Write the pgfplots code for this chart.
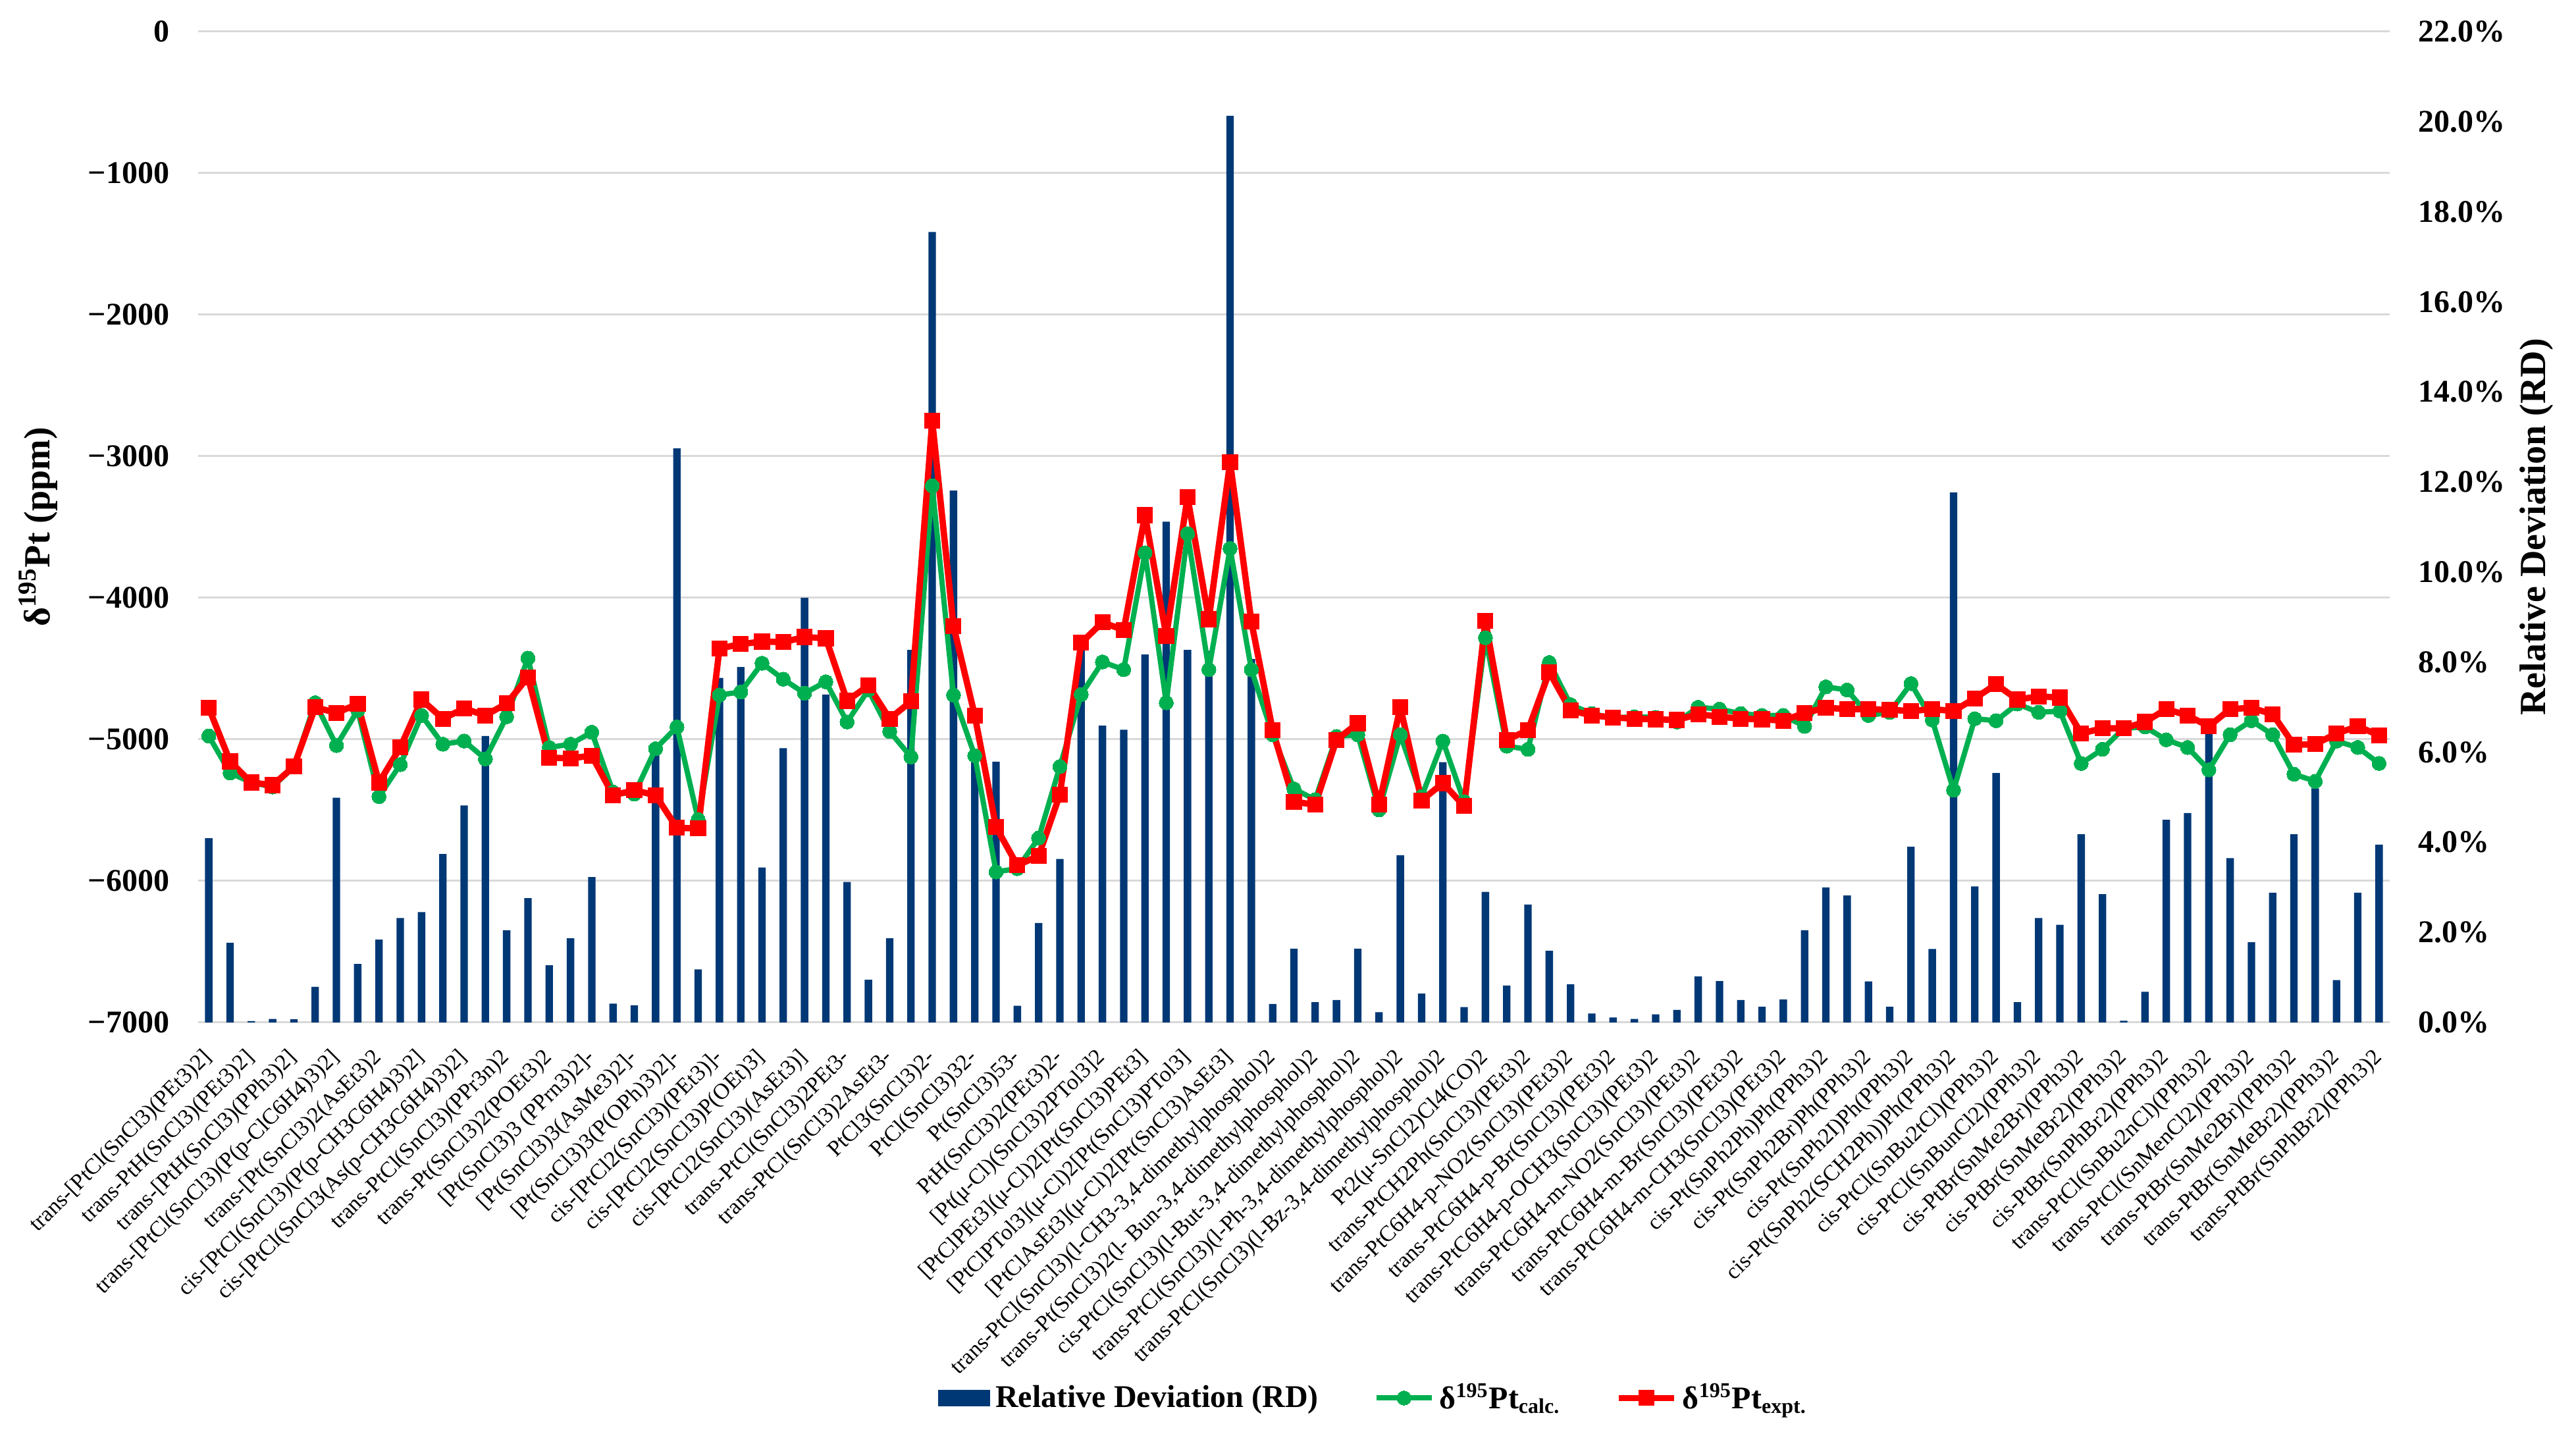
\documentclass[border=0pt]{standalone}
\usepackage{fontspec}
\setmainfont{Liberation Serif}
\usepackage{pgfplots}
\usepackage{pgfplotstable}
\pgfplotsset{compat=1.18}
\definecolor{barblue}{HTML}{003876}
\definecolor{gridgray}{HTML}{D9D9D9}
\definecolor{calcgreen}{HTML}{00B050}
\definecolor{exptred}{HTML}{FF0000}
\pgfplotstableread{
x rd calc expt
0 4.09 -4976 -4777
1 1.77 -5237 -5156
2 0.03 -5305 -5305
3 0.08 -5336 -5323
4 0.07 -5192 -5192
5 0.79 -4741 -4773
6 4.99 -5043 -4813
7 1.30 -4795 -4750
8 1.84 -5404 -5305
9 2.32 -5178 -5057
10 2.45 -4831 -4719
11 3.74 -5034 -4854
12 4.82 -5012 -4782
13 6.36 -5138 -4831
14 2.05 -4840 -4746
15 2.76 -4426 -4561
16 1.27 -5057 -5129
17 1.87 -5034 -5134
18 3.23 -4949 -5115
19 0.42 -5372 -5395
20 0.38 -5386 -5359
21 6.03 -5066 -5395
22 12.75 -4912 -5625
23 1.18 -5566 -5629
24 7.65 -4687 -4358
25 7.89 -4665 -4327
26 3.44 -4462 -4309
27 6.09 -4575 -4313
28 9.43 -4674 -4277
29 7.28 -4593 -4286
30 3.12 -4877 -4728
31 0.95 -4651 -4620
32 1.87 -4944 -4854
33 8.27 -5124 -4732
34 17.55 -3209 -2749
35 11.81 -4687 -4200
36 5.82 -5115 -4831
37 5.79 -5936 -5620
38 0.37 -5913 -5890
39 2.21 -5697 -5823
40 3.63 -5192 -5390
41 8.30 -4683 -4318
42 6.59 -4453 -4173
43 6.50 -4507 -4228
44 8.17 -3682 -3416
45 11.12 -4741 -4268
46 8.27 -3547 -3290
47 8.25 -4507 -4151
48 20.13 -3651 -3042
49 8.07 -4507 -4169
50 0.41 -4967 -4935
51 1.64 -5350 -5440
52 0.45 -5426 -5462
53 0.50 -4980 -5003
54 1.64 -4967 -4886
55 0.23 -5498 -5462
56 3.71 -4967 -4773
57 0.64 -5404 -5431
58 5.78 -5012 -5309
59 0.34 -5440 -5471
60 2.90 -4282 -4164
61 0.82 -5048 -5003
62 2.62 -5070 -4935
63 1.59 -4457 -4525
64 0.85 -4755 -4795
65 0.20 -4818 -4831
66 0.11 -4849 -4845
67 0.08 -4840 -4854
68 0.18 -4845 -4858
69 0.28 -4877 -4863
70 1.02 -4773 -4822
71 0.92 -4786 -4840
72 0.50 -4818 -4854
73 0.35 -4831 -4858
74 0.51 -4831 -4868
75 2.05 -4908 -4813
76 3.00 -4629 -4777
77 2.82 -4651 -4786
78 0.91 -4831 -4786
79 0.35 -4809 -4791
80 3.90 -4606 -4800
81 1.63 -4863 -4786
82 11.77 -5359 -4800
83 3.02 -4854 -4710
84 5.54 -4868 -4611
85 0.45 -4750 -4719
86 2.32 -4809 -4696
87 2.17 -4800 -4705
88 4.18 -5170 -4958
89 2.85 -5070 -4922
90 0.04 -4922 -4922
91 0.68 -4912 -4877
92 4.50 -5003 -4786
93 4.65 -5057 -4831
94 6.40 -5215 -4908
95 3.65 -4967 -4786
96 1.78 -4868 -4777
97 2.88 -4967 -4822
98 4.18 -5246 -5039
99 5.20 -5296 -5034
100 0.94 -5012 -4958
101 2.88 -5057 -4908
102 3.95 -5170 -4971
}\datatable

\begin{document}
\begin{tikzpicture}
\begin{axis}[
  at={(75.25pt,155.5pt)}, anchor=south west,
  width=832.25pt, height=376.25pt, scale only axis,
  xmin=-0.5, xmax=102.5, ymin=0, ymax=22,
  axis y line*=right, axis x line*=bottom,
  y axis line style={draw=none},
  x axis line style={draw=gridgray, line width=0.75pt, -},
  major tick length=0pt,
  xtick={0,2,...,102},
  xticklabels={{trans-[PtCl(SnCl3)(PEt3)2]},{trans-PtH(SnCl3)(PEt3)2]},{trans-[PtH(SnCl3)(PPh3)2]},{trans-[PtCl(SnCl3)(P(p-ClC6H4)3)2]},{trans-[Pt(SnCl3)2(AsEt3)2},{cis-[PtCl(SnCl3)(P(p-CH3C6H4)3)2]},{cis-[PtCl(SnCl3(As(p-CH3C6H4)3)2]},{trans-PtCl(SnCl3)(PPr3n)2},{trans-Pt(SnCl3)2(POEt3)2},{[Pt(SnCl3)3 (PPrn3)2]-},{[Pt(SnCl3)3(AsMe3)2]-},{[Pt(SnCl3)3(P(OPh)3)2]-},{cis-[PtCl2(SnCl3)(PEt3)]-},{cis-[PtCl2(SnCl3)P(OEt)3]},{cis-[PtCl2(SnCl3)(AsEt3)]},{trans-PtCl(SnCl3)2PEt3-},{trans-PtCl(SnCl3)2AsEt3-},{PtCl3(SnCl3)2-},{PtCl(SnCl3)32-},{Pt(SnCl3)53-},{PtH(SnCl3)2(PEt3)2-},{[Pt(μ-Cl)(SnCl3)2PTol3]2},{[PtClPEt3](μ-Cl)2[Pt(SnCl3)PEt3]},{[PtClPTol3](μ-Cl)2[Pt(SnCl3)PTol3]},{[PtClAsEt3](μ-Cl)2[Pt(SnCl3)AsEt3]},{trans-PtCl(SnCl3)(l-CH3-3,4-dimethylphosphol)2},{trans-Pt(SnCl3)2(l- Bun-3,4-dimethylphosphol)2},{cis-PtCl(SnCl3)(l-But-3,4-dimethylphosphol)2},{trans-PtCl(SnCl3)(l-Ph-3,4-dimethylphosphol)2},{trans-PtCl(SnCl3)(l-Bz-3,4-dimethylphosphol)2},{Pt2(μ-SnCl2)Cl4(CO)2},{trans-PtCH2Ph(SnCl3)(PEt3)2},{trans-PtC6H4-p-NO2(SnCl3)(PEt3)2},{trans-PtC6H4-p-Br(SnCl3)(PEt3)2},{trans-PtC6H4-p-OCH3(SnCl3)(PEt3)2},{trans-PtC6H4-m-NO2(SnCl3)(PEt3)2},{trans-PtC6H4-m-Br(SnCl3)(PEt3)2},{trans-PtC6H4-m-CH3(SnCl3)(PEt3)2},{cis-Pt(SnPh2Ph)Ph(PPh3)2},{cis-Pt(SnPh2Br)Ph(PPh3)2},{cis-Pt(SnPh2I)Ph(PPh3)2},{cis-Pt(SnPh2(SCH2Ph))Ph(PPh3)2},{cis-PtCl(SnBu2tCl)(PPh3)2},{cis-PtCl(SnBunCl2)(PPh3)2},{cis-PtBr(SnMe2Br)(PPh3)2},{cis-PtBr(SnMeBr2)(PPh3)2},{cis-PtBr(SnPhBr2)(PPh3)2},{trans-PtCl(SnBu2nCl)(PPh3)2},{trans-PtCl(SnMenCl2)(PPh3)2},{trans-PtBr(SnMe2Br)(PPh3)2},{trans-PtBr(SnMeBr2)(PPh3)2},{trans-PtBr(SnPhBr2)(PPh3)2}},
  xticklabel style={font=\fontsize{8.5}{9}\selectfont, yshift=-12pt, rotate=45, anchor=east, inner sep=0pt},
  ytick={0,2,...,22},
  yticklabels={0.0\%,2.0\%,4.0\%,6.0\%,8.0\%,10.0\%,12.0\%,14.0\%,16.0\%,18.0\%,20.0\%,22.0\%},
  yticklabel style={font=\bfseries\fontsize{12}{14}\selectfont, anchor=west, inner sep=0pt, xshift=10.75pt},
  extra y ticks={3.142857,6.285714,9.428571,12.571429,15.714286,18.857143,22},
  extra y tick labels={},
  extra y tick style={grid=major},
  major grid style={draw=gridgray, line width=0.75pt},
  ylabel={Relative Deviation (RD)},
  ylabel style={font=\bfseries\fontsize{14}{16}\selectfont, at={(axis description cs:1.067,0.5)}, anchor=center},
]
\addplot[ybar, bar width=2.83pt, bar shift=0pt, fill=barblue, draw=none] table[x=x,y=rd]{\datatable};
\end{axis}
\begin{axis}[
  at={(75.25pt,155.5pt)}, anchor=south west,
  width=832.25pt, height=376.25pt, scale only axis,
  xmin=-0.5, xmax=102.5, ymin=-7000, ymax=0,
  hide x axis, axis y line*=left,
  y axis line style={draw=none},
  major tick length=0pt,
  ytick={-7000,-6000,-5000,-4000,-3000,-2000,-1000,0},
  yticklabels={−7000,−6000,−5000,−4000,−3000,−2000,−1000,0},
  yticklabel style={font=\bfseries\fontsize{12}{14}\selectfont, anchor=east, inner sep=0pt, xshift=-10.75pt},
  ylabel={δ\textsuperscript{195}Pt (ppm)},
  ylabel style={font=\bfseries\fontsize{14}{16}\selectfont, at={(axis description cs:-0.073,0.5)}, anchor=center},
  legend columns=3,
  legend image code/.code={\draw[mark repeat=2,mark phase=2] plot coordinates {(0pt,0pt) (10.5pt,0pt) (21pt,0pt)};},
  legend style={at={(0.537,-0.379)}, anchor=center, draw=none, fill=none,
    font=\bfseries\fontsize{12}{14}\selectfont,
    /tikz/every even column/.append style={column sep=19pt}},
]
\addlegendimage{legend image code/.code={\fill[barblue] (0pt,-3pt) rectangle (19.5pt,3pt);}}
\addlegendentry{Relative Deviation (RD)}
\addplot[color=calcgreen, line width=2pt, line join=round, mark=*, mark size=2.7pt, mark options={fill=calcgreen, draw=calcgreen, line width=0pt}] table[x=x,y=calc]{\datatable};
\addlegendentry{δ\textsuperscript{195}Pt\textsubscript{calc.}}
\addplot[color=exptred, line width=2.4pt, line join=round, mark=square*, mark size=2.9pt, mark options={fill=exptred, draw=exptred, line width=0pt}] table[x=x,y=expt]{\datatable};
\addlegendentry{δ\textsuperscript{195}Pt\textsubscript{expt.}}
\end{axis}
\pgfresetboundingbox
\useasboundingbox (0,0) rectangle (978.25pt,543.75pt);
\end{tikzpicture}
\end{document}
